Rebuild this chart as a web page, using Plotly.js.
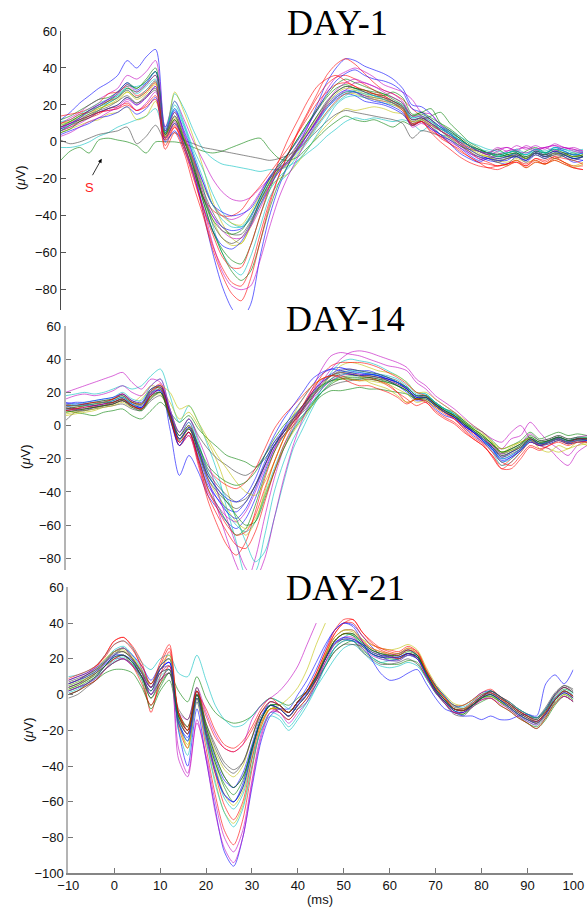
<!DOCTYPE html>
<html>
<head>
<meta charset="utf-8">
<script src="https://cdn.plot.ly/plotly-3.0.1.min.js"></script>
<style>
  html, body { margin: 0; padding: 0; background: #fff; }
  #chart { width: 587px; height: 910px; }
</style>
</head>
<body>
<div id="chart"></div>
<script>
// Sample times (ms) shared by every recording
const timeMs = [-10,-8,-6,-4,-2,0,2,4,6,8,10,12,14,16,18,20,22,24,26,28,30,32,34,36,38,40,42,44,46,48,50,52,54,56,58,60,62,64,66,68,70,72,74,76,78,80,82,84,86,88,90,92,94,96,98,100];

// ---- DAY-1 recordings (µV) ----
const d1a = [12,16,21,25,29,32,36,44, 40,46,50,8,18,4,-14,-38, -60,-78,-90,-96,-88,-62,-40,-24, -12,-2,8,20,32,40,45,44, 41,39,37,34,29,20,19,15, 9,5,-1,-6,-8,-10,-11,-12, -8,-11,-7,-9,-6,-8,-11,-10];
const d1b = [-10,-5,-3,-6,1,2,1,0, -2,-6,0,0,0,-1,-3,-5, -6,-5,-3,-1,1,2,-4,-9, -10,-8,-3,2,7,11,14,12, 11,12,10,8,11,9,12,14, 16,10,5,0,-3,-6,-4,-7, -8,-5,-3,-6,-9,-7,-6,-8];
const d1c = [6,8,11,13,15,18,19,21, 17,20,25,-2,8,-2,-18,-38, -56,-68,-76,-78,-68,-50,-32,-18, -6,6,16,26,36,42,45,42, 37,32,28,26,23,18,14,12, 6,3,-1,-5,-9,-11,-13,-12, -10,-12,-9,-10,-8,-11,-13,-13];
const d1d = [-3,-3,-2,0,3,5,8,10, 12,14,18,4,26,18,6,-4, -9,-12,-13,-14,-15,-16,-15,-15, -13,-10,-6,-2,3,7,11,13, 12,13,12,11,12,10,6,9, 4,3,1,-2,-5,-6,-7,-8, -6,-7,-5,-6,-4,-5,-7,-6];
const d1e = [10,13,16,20,23,26,29,36, 34,38,44,8,22,12,0,-10, -20,-27,-31,-32,-30,-25,-20,-15, -10,-1,8,18,28,35,38,40, 38,35,31,29,27,23,16,15, 9,6,2,-2,-4,-6,-4,-3, -5,-2,-4,-3,-2,-4,-3,-5];
const d1f = [5,7,9,11,12,15,16,19, 12,14,22,2,27,16,2,-14, -32,-44,-52,-55,-45,-32,-24,-20, -17,-11,-4,3,9,14,18,17, 18,19,18,16,15,9,11,8, 4,2,-1,-4,-7,-8,-10,-11, -9,-11,-10,-12,-9,-11,-13,-11];
const d1g = [1,-1,0,2,4,5,6,8, -1,3,9,1,5,1,-1,-3, -4,-5,-6,-7,-8,-9,-10,-9, -7,-4,1,6,11,15,17,16, 15,14,13,12,10,2,6,5, 3,1,-2,-4,-5,-7,-6,-8, -7,-8,-6,-8,-7,-6,-7,-8];
const d1h = [8,10,12,14,16,18,20,24, 20,24,30,3,10,0,-12,-30, -40,-46,-48,-47,-41,-30,-20,-14, -10,-3,4,11,18,23,26,25, 22,21,20,18,15,10,12,8, 4,1,-3,-7,-10,-8,-9,-8, -6,-9,-5,-7,-3,-5,-7,-6];
const d1i = [12,14,17,20,23,24,27,32, 29,34,40,5,16,2,-12,-32, -48,-58,-64,-66,-56,-40,-26,-14, -6,2,10,18,25,31,34,32, 30,28,26,24,21,14,15,12, 8,5,2,-2,-4,-6,-8,-7, -6,-9,-6,-7,-5,-7,-9,-8];
const d1j = [14,15,16,18,21,26,27,30, 25,28,33,2,9,-2,-16,-30, -37,-40,-40,-37,-30,-24,-17,-10, -3,5,13,21,27,31,32,30, 27,26,25,22,19,9,11,8, 2,-1,-5,-8,-11,-12,-13,-12, -10,-13,-9,-11,-8,-9,-10,-12];
const d1k = [9,11,14,17,20,22,25,29, 26,30,34,6,18,8,-8,-25, -45,-60,-68,-72,-62,-46,-30,-22, -17,-10,-4,4,12,20,24,25, 24,23,21,20,18,12,13,10, 7,5,1,-2,-4,-5,-7,-6, -5,-7,-4,-6,-3,-4,-5,-4];
const d1l = [6,8,10,13,16,17,18,22, 17,21,27,4,14,3,-10,-22, -34,-40,-42,-40,-35,-27,-19,-14, -11,-4,2,9,16,22,26,27, 25,23,22,21,18,8,10,7, 3,0,-3,-6,-9,-9,-7,-5, -4,-3,-5,-3,-2,-3,-4,-6];
const d1m = [10,11,13,15,18,20,23,27, 24,27,32,3,12,1,-12,-28, -42,-52,-56,-55,-46,-34,-23,-16, -12,-6,1,9,16,22,26,26, 24,23,22,20,17,10,12,9, 6,3,0,-3,-7,-8,-11,-13, -10,-14,-11,-12,-10,-12,-14,-12];
const d1n = [7,9,11,13,16,18,20,24, 21,24,28,2,10,1,-10,-26, -38,-46,-50,-50,-43,-32,-22,-15, -10,-3,4,12,19,24,27,27, 25,24,23,21,18,11,13,10, 7,4,1,-2,-5,-7,-9,-8, -7,-9,-6,-7,-5,-6,-8,-7];
const d1o = [4,6,8,10,13,14,16,19, 15,18,24,0,6,-4,-18,-35, -48,-56,-58,-54,-45,-34,-24,-16, -10,-4,4,12,20,25,28,27, 24,22,21,19,16,9,11,7, 4,-1,-6,-9,-11,-9,-10,-9, -8,-10,-6,-8,-6,-7,-9,-10];
const d1p = [5,7,11,14,17,21,24,29, 27,31,36,4,12,-2,-16,-32, -48,-60,-70,-75,-70,-54,-36,-22, -12,-3,6,14,21,27,30,29, 28,27,26,23,20,14,16,13, 10,7,3,-1,-4,-6,-8,-7, -6,-9,-6,-8,-6,-7,-9,-8];
const d1q = [8,10,12,14,16,17,18,20, 17,19,23,-4,5,-6,-24,-40, -58,-72,-82,-86,-74,-54,-34,-18, -6,5,15,24,31,35,36,34, 31,28,25,22,19,10,11,6, 3,-1,-4,-8,-11,-14,-13,-12, -11,-13,-10,-12,-9,-11,-14,-15];
const d1r = [11,12,15,18,21,23,25,30, 30,32,38,7,22,10,-4,-15, -28,-38,-44,-46,-42,-34,-26,-19, -14,-7,0,8,15,21,25,28, 27,25,24,22,20,13,14,11, 8,6,3,0,-2,-4,-5,-6, -4,-6,-4,-5,-3,-4,-6,-5];
const d1s = [3,5,8,11,13,16,19,23, 20,24,30,2,11,-2,-18,-35, -55,-70,-78,-80,-78,-64,-46,-30, -18,-8,2,11,19,24,28,32, 32,30,27,24,21,12,13,9, 6,3,0,-2,-5,-7,-5,-3, -5,-6,-4,-3,-5,-3,-5,-6];
const d1t = [9,11,14,16,18,20,22,27, 23,26,31,3,13,2,-10,-24, -34,-40,-44,-45,-38,-29,-21,-15, -10,-3,5,13,20,26,29,28, 26,24,23,21,18,11,12,9, 6,3,0,-3,-6,-8,-10,-9, -7,-9,-6,-8,-6,-7,-8,-7];
const d1u = [6,9,12,15,17,19,22,25, 21,25,29,4,12,0,-14,-30, -44,-52,-55,-52,-44,-32,-22,-13, -8,-1,6,14,22,27,30,29, 27,25,24,22,19,12,13,10, 6,2,-2,-5,-8,-9,-11,-9, -8,-10,-7,-9,-7,-8,-10,-8];
const d1v = [7,10,13,17,20,23,27,32, 28,32,38,6,17,6,-8,-22, -34,-38,-40,-39,-36,-28,-19,-12, -6,1,9,17,26,33,37,39, 36,34,33,31,27,18,16,12, 8,4,0,-4,-7,-9,-10,-10, -7,-10,-6,-8,-5,-7,-9,-8];
const d1w = [8,11,14,17,19,22,26,31, 29,33,38,5,14,1,-14,-30, -42,-48,-50,-48,-40,-30,-20,-12, -6,2,10,17,24,29,31,29, 28,26,25,27,24,15,16,18, 10,6,2,-2,-5,-6,-7,-6, -5,-8,-5,-6,-4,-6,-8,-7];
const d1x = [10,12,15,16,19,22,24,28, 24,27,32,1,8,-4,-20,-36, -50,-62,-68,-68,-56,-40,-24,-10, 2,12,22,30,34,36,33,30, 28,26,24,21,17,9,11,5, 0,-4,-8,-11,-13,-14,-15,-13, -11,-14,-11,-12,-10,-12,-14,-15];
const d1y = [6,9,13,16,19,21,24,28, 24,28,33,5,20,9,-6,-20, -34,-42,-46,-46,-40,-31,-22,-16, -11,-5,2,10,18,24,27,27, 26,25,23,21,19,13,14,11, 7,4,1,-2,-5,-6,-8,-6, -5,-7,-4,-6,-4,-5,-7,-6];
const d1z = [8,10,13,17,20,23,26,31, 27,31,36,6,16,5,-10,-28, -40,-48,-52,-52,-46,-36,-24,-16, -11,-4,4,12,21,28,32,34, 32,30,28,26,22,14,14,10, 6,3,-1,-3,-5,-6,-3,-5, -2,-4,-2,-4,-1,-3,-4,-5];

// ---- DAY-14 recordings (µV) ----
const d14a = [12,10,9,11,12,14,16,13, 11,18,22,-2,-30,-18,-28,-42, -50,-58,-62,-56,-44,-28,-14,-2, 8,16,24,31,34,35,33,32, 31,30,27,24,20,15,15,10, 6,4,-1,-6,-10,-15,-22,-19, -15,-9,-12,-10,-8,-10,-9,-10];
const d14b = [9,8,7,6,8,9,10,6, 4,9,14,8,2,6,-2,-8, -13,-18,-20,-22,-25,-20,-12,-6, 0,6,12,18,21,21,22,23, 22,22,21,20,19,16,17,13, 10,8,3,-1,-4,-9,-14,-12, -9,-4,-8,-6,-4,-6,-5,-6];
const d14c = [10,11,12,11,12,13,15,12, 10,19,24,8,-12,-6,-24,-45, -60,-72,-78,-70,-52,-32,-16,-4, 4,12,20,26,30,32,31,30, 29,27,24,20,16,12,14,8, 4,1,-4,-8,-12,-18,-24,-20, -14,-9,-12,-10,-8,-11,-9,-9];
const d14d = [18,19,20,19,20,22,24,22, 24,30,34,18,2,12,2,-12, -28,-50,-70,-90,-88,-66,-40,-22, -8,2,12,22,32,38,40,39, 38,36,33,30,26,20,19,14, 10,6,0,-4,-9,-16,-24,-22, -16,-10,-12,-10,-7,-9,-8,-7];
const d14e = [20,22,24,26,28,30,32,26, 22,28,26,10,-6,2,-14,-32, -50,-68,-84,-95,-80,-55,-32,-14, -2,10,22,34,42,44,43,42, 40,38,36,35,33,26,22,16, 12,8,2,-4,-8,-12,-14,-8, -6,2,-4,-10,-14,-18,-12,-9];
const d14f = [8,9,10,12,14,15,17,14, 18,24,22,14,4,8,0,-10, -22,-38,-56,-66,-58,-40,-22,-8, 4,12,18,24,30,36,38,37, 35,33,32,30,26,20,20,16, 12,8,4,0,-4,-10,-16,-13, -10,-8,-12,-14,-16,-14,-12,-11];
const d14g = [3,8,9,10,11,12,13,10, 9,15,18,8,-4,4,-6,-14, -20,-24,-28,-30,-26,-18,-10,-4, 2,8,14,20,24,26,27,28, 29,28,27,24,21,16,16,12, 8,5,0,-4,-8,-13,-18,-16, -12,-8,-10,-9,-7,-9,-8,-8];
const d14h = [10,10,11,12,13,15,17,13, 11,20,21,4,-10,-4,-20,-36, -44,-50,-52,-46,-36,-22,-10,-2, 5,12,20,27,31,34,34,33, 33,31,29,26,23,18,18,13, 9,6,1,-4,-8,-13,-19,-16, -13,-8,-11,-10,-8,-10,-9,-8];
const d14i = [12,12,13,14,15,16,18,14, 13,22,23,6,-12,-4,-20,-38, -48,-58,-66,-62,-48,-30,-16,-6, 2,9,17,23,27,29,30,30, 30,29,28,26,23,18,18,14, 10,7,3,-2,-6,-11,-17,-15, -12,-7,-10,-9,-7,-9,-8,-8];
const d14j = [11,10,12,13,14,16,19,15, 13,21,25,8,-6,0,-12,-26, -32,-36,-38,-34,-26,-14,-2,6, 12,18,24,28,30,30,28,27, 28,27,25,20,14,16,15,11, 7,4,-1,-5,-10,-16,-22,-24, -18,-12,-14,-12,-9,-11,-9,-10];
const d14k = [12,13,14,15,16,17,20,16, 15,24,28,10,-4,4,-10,-28, -40,-52,-60,-64,-58,-42,-26,-12, -2,6,14,22,28,32,33,33, 32,31,30,28,24,19,19,14, 10,7,2,-3,-8,-14,-22,-20, -15,-9,-11,-9,-7,-9,-7,-8];
const d14l = [9,9,10,11,12,13,15,11, 10,18,20,4,-12,-6,-22,-40, -48,-55,-58,-52,-40,-26,-14,-6, 2,9,16,22,27,30,31,31, 30,29,28,25,22,16,17,12, 8,5,0,-4,-8,-12,-17,-14, -11,-5,-9,-8,-6,-8,-7,-6];
const d14m = [7,8,9,10,12,14,16,12, 10,17,19,5,-8,-2,-16,-32, -42,-50,-58,-62,-56,-42,-28,-14, -4,4,12,20,26,28,28,27, 27,26,25,22,19,14,15,11, 8,6,2,-2,-6,-11,-16,-15, -13,-9,-12,-11,-9,-11,-10,-10];
const d14n = [13,12,13,14,15,16,18,14, 13,21,23,7,-8,-1,-16,-32, -40,-46,-50,-46,-36,-24,-12,-4, 3,10,17,24,28,31,31,30, 30,29,27,25,22,17,18,13, 9,6,1,-3,-8,-13,-19,-17, -14,-8,-11,-10,-8,-10,-8,-8];
const d14o = [14,13,13,12,13,14,16,12, 11,19,21,5,-12,-4,-18,-34, -44,-52,-56,-50,-38,-24,-12,-4, 4,11,19,26,30,32,31,30, 31,30,28,26,22,17,17,12, 8,5,0,-4,-9,-14,-20,-18, -14,-9,-11,-10,-8,-10,-8,-9];
const d14p = [10,11,12,13,14,14,16,12, 10,18,20,4,-9,-2,-16,-30, -38,-46,-54,-60,-58,-44,-28,-14, -3,5,13,20,25,28,29,29, 29,28,26,24,21,16,16,12, 8,5,1,-3,-7,-11,-16,-14, -11,-7,-10,-9,-7,-9,-8,-8];
const d14q = [12,12,13,14,14,16,19,14, 12,20,24,6,-10,-4,-22,-42, -54,-64,-72,-74,-64,-46,-28,-12, 0,10,20,30,36,38,38,38, 37,35,32,29,25,20,18,13, 8,4,-2,-7,-11,-19,-26,-22, -16,-10,-12,-10,-8,-10,-8,-8];
const d14r = [11,12,12,13,14,15,17,13, 12,20,22,6,-6,2,-12,-26, -34,-44,-56,-70,-82,-76,-56,-34, -14,-2,10,20,26,30,32,32, 31,30,29,26,23,18,18,14, 10,7,2,-3,-8,-14,-20,-18, -14,-9,-11,-10,-8,-10,-9,-9];
const d14s = [16,18,19,18,19,21,24,20, 18,24,28,10,-4,4,-8,-22, -40,-56,-72,-86,-92,-80,-56,-32, -12,4,16,26,34,40,44,45, 44,42,40,38,35,28,24,18, 14,10,5,0,-4,-8,-10,-4, 0,-8,-12,-14,-20,-24,-16,-12];
const d14t = [6,7,8,9,11,12,14,11, 16,22,24,20,10,12,2,-8, -18,-26,-34,-40,-42,-34,-22,-8, 6,16,24,28,30,32,32,30, 26,24,22,18,14,16,18,12, 8,6,2,-2,-5,-10,-14,-12, -10,-8,-14,-16,-12,-14,-10,-12];
const d14u = [9,10,10,11,12,13,15,12, 10,16,20,6,-8,-2,-14,-28, -36,-42,-46,-44,-36,-24,-12,-3, 4,10,18,25,30,33,34,33, 32,31,29,27,23,18,18,13, 9,6,1,-3,-7,-12,-18,-16, -13,-8,-11,-9,-7,-9,-8,-8];
const d14v = [13,14,14,15,16,17,19,15, 14,22,24,8,-8,-1,-14,-30, -38,-44,-46,-42,-32,-18,-6,4, 12,20,28,32,34,33,32,31, 31,30,28,26,22,17,17,12, 8,5,0,-4,-9,-14,-21,-19, -15,-10,-12,-11,-9,-11,-10,-9];
const d14w = [8,9,10,11,12,13,15,11, 9,17,20,6,-6,0,-12,-24, -30,-34,-36,-34,-28,-18,-8,0, 6,12,19,24,27,28,28,28, 28,27,26,24,21,16,17,13, 9,6,2,-2,-6,-11,-16,-14, -11,-6,-9,-8,-6,-8,-7,-7];
const d14x = [9,10,11,12,13,14,16,12, 10,18,22,6,-10,-4,-20,-38, -50,-60,-66,-64,-54,-38,-22,-8, 2,12,22,28,30,29,26,24, 24,22,20,17,13,16,14,9, 5,2,-3,-8,-12,-18,-26,-26, -20,-13,-15,-12,-10,-12,-10,-10];

// ---- DAY-21 recordings (µV) ----
const d21a = [2,4,6,10,16,22,26,20, 12,4,14,18,-20,-40,-8,-36, -64,-88,-96,-80,-52,-26,-12,-8, -8,0,8,18,28,36,40,39, 33,27,22,19,20,22,22,13, 5,-1,-7,-6,-3,1,2,-1, -5,-9,-12,-14,-8,0,4,1];
const d21b = [0,2,5,8,12,14,14,12, 4,-6,4,12,2,-4,10,-2, -10,-14,-16,-15,-12,-6,-2,-4, -6,-2,2,8,16,24,28,30, 25,21,18,17,17,19,18,9, 1,-5,-10,-11,-7,-4,-2,-6, -9,-13,-16,-19,-14,-6,-1,-4];
const d21c = [6,8,11,15,22,30,32,26, 14,-10,10,24,-18,-30,-4,-30, -56,-76,-84,-70,-42,-18,-8,-8, -10,-4,2,12,24,34,40,40, 33,28,26,25,24,27,24,14, 5,-2,-6,-6,-3,1,3,-1, -4,-8,-11,-13,-9,-1,4,1];
const d21d = [10,11,13,16,22,28,30,26, 18,14,20,22,12,10,22,8, -6,-14,-18,-17,-12,-6,-2,-4, -8,-8,-4,4,12,20,26,28, 24,19,16,15,16,18,16,9, 1,-4,-9,-10,-6,-3,-1,-4, -7,-11,-15,-17,-12,-5,-1,-4];
const d21e = [4,6,8,12,18,24,26,20, 12,0,12,16,-36,-46,-14,-36, -66,-86,-94,-80,-50,-24,-10,-8, -12,-6,0,10,22,32,36,36, 30,25,23,21,20,23,21,11, 2,-4,-8,-9,-5,-1,0,-3, -6,-10,-13,-15,-11,-3,1,-2];
const d21f = [3,5,8,12,18,24,25,20, 12,4,16,22,-14,-30,-2,-26, -48,-66,-72,-62,-40,-18,-8,-8, -10,-4,2,10,22,32,36,35, 31,28,26,25,26,28,25,15, 6,0,-5,-6,-3,0,1,-2, -5,-9,-12,-14,-9,-2,3,1];
const d21g = [-2,0,4,8,14,18,20,17, 10,0,8,12,-12,-18,2,-18, -34,-46,-52,-46,-30,-14,-6,-8, -12,-6,0,8,18,26,30,30, 24,20,17,17,18,20,17,10, 2,-5,-11,-12,-7,-2,2,-2, -5,-9,-12,-13,-7,1,5,3];
const d21h = [6,8,11,14,18,22,22,18, 10,2,14,18,-14,-22,0,-20, -36,-48,-52,-44,-28,-12,-6,-8, -12,-5,1,10,20,29,31,30, 28,24,22,22,23,25,22,12, 3,-3,-8,-8,-5,-1,1,-3, -7,-11,-14,-15,-10,-2,2,-1];
const d21i = [2,4,7,10,14,18,20,16, 8,-8,2,8,-14,-22,-2,-22, -38,-52,-60,-52,-32,-14,-6,-6, -10,-4,2,10,20,30,34,33, 27,23,21,20,20,23,21,11, 1,-4,-9,-11,-6,-2,0,-4, -8,-12,-16,-18,-13,-4,0,-3];
const d21j = [8,10,12,16,22,30,32,27, 18,4,16,26,-12,-22,0,-8, -20,-28,-30,-26,-18,-8,-2,-6, -10,-4,2,10,22,34,40,42, 35,30,26,24,23,26,24,13, 4,-2,-8,-8,-4,0,1,-2, -6,-10,-13,-16,-10,-3,2,-1];
const d21k = [5,7,10,13,19,25,27,22, 14,6,16,20,-14,-26,2,-22, -42,-58,-64,-56,-36,-20,-10,-12, -18,-12,-4,6,16,26,30,30, 26,21,18,19,20,22,20,12, 5,-1,-6,-7,-4,0,2,-1, -5,-8,-11,-13,-9,-2,2,0];
const d21l = [4,6,9,12,16,20,20,16, 10,4,12,14,-10,-14,4,-10, -22,-30,-32,-28,-14,-6,-2,2, 8,16,28,40,null,null,null,null, null,null,null,null,null,null,null,null, null,null,null,null,null,null,null,null, null,null,null,null,null,null,null,null];
const d21m = [6,8,10,14,20,24,24,20, 12,6,16,20,-10,-18,0,-18, -32,-42,-46,-40,-24,-12,-8,-6, -2,4,14,28,40,null,null,null, null,null,null,null,null,null,null,null, null,null,null,null,null,null,null,null, null,null,null,null,null,null,null,null];
const d21n = [7,9,11,14,18,23,24,20, 13,6,14,16,-8,-14,2,-16, -30,-40,-44,-38,-24,-10,-6,-10, -14,-8,-2,6,16,24,28,28, 27,23,21,21,21,23,21,13, 5,-1,-6,-8,-6,-2,2,-1, -4,-8,-11,-13,-8,0,4,1];
const d21o = [8,10,12,15,19,24,26,22, 16,8,16,20,-16,-24,0,-24, -44,-56,-60,-50,-30,-14,-4,-6, -10,-4,4,14,26,36,40,38, 30,20,12,8,9,12,14,6, -2,-8,-10,-12,-12,-14,-12,-14, -14,-12,-11,-12,6,11,6,14];
const d21p = [4,6,9,12,16,20,22,18, 10,2,12,14,-12,-20,0,-20, -38,-50,-56,-48,-30,-14,-6,-8, -12,-6,0,9,20,30,34,33, 29,25,23,22,22,24,22,12, 3,-3,-8,-9,-6,-2,-1,-4, -7,-11,-14,-16,-11,-3,1,-2];
const d21q = [0,2,5,8,14,20,22,16, 6,-6,6,16,-10,-20,2,-22, -44,-62,-70,-60,-36,-16,-8,-10, -14,-8,-2,8,20,30,34,34, 30,26,24,22,20,23,20,10, 2,-4,-10,-10,-6,-3,-2,-6, -9,-13,-16,-19,-13,-5,-1,-4];
const d21r = [1,3,6,9,14,19,21,17, 9,0,10,14,-20,-34,-4,-26, -50,-66,-74,-64,-40,-20,-12,-14, -20,-14,-6,4,16,26,32,34, 28,23,20,19,19,22,20,11, 3,-3,-8,-9,-5,-1,1,-2, -4,-8,-11,-13,-8,-1,3,1];
const d21s = [2,4,6,9,14,18,20,16, 10,0,8,12,-30,-44,-16,-34, -60,-80,-88,-76,-48,-22,-10,-10, -16,-10,-4,6,18,28,32,32, 26,22,20,19,19,22,20,10, 1,-5,-10,-10,-7,-3,-2,-5, -8,-12,-15,-17,-12,-5,-1,-4];
const d21t = [5,7,9,13,19,24,26,21, 13,4,14,20,-16,-28,-2,-22, -40,-56,-62,-54,-34,-16,-8,-8, -12,-6,0,10,22,32,36,36, 31,26,24,23,23,26,23,13, 4,-2,-7,-8,-5,-2,-1,-4, -7,-11,-14,-16,-12,-5,0,-2];
const d21u = [0,2,6,10,16,22,24,19, 10,-2,8,14,-10,-18,4,-16, -28,-38,-42,-38,-24,-10,-4,-6, -10,-4,2,10,20,28,31,31, 28,24,22,21,21,23,21,12, 3,-3,-8,-9,-6,-1,2,-1, -5,-9,-12,-14,-9,0,5,2];
const d21v = [6,8,10,13,17,21,22,19, 12,4,14,18,-16,-26,-2,-22, -42,-56,-60,-52,-32,-14,-6,-8, -12,-6,0,9,20,29,32,31, 28,23,21,21,21,23,20,11, 2,-4,-9,-10,-6,-2,0,-3, -7,-11,-14,-16,-11,-3,1,-2];
const d21w = [3,5,8,11,16,21,22,18, 10,-2,6,12,-12,-20,0,-18, -34,-46,-52,-46,-30,-14,-6,-6, -10,-4,2,10,21,30,34,34, 29,25,23,22,22,25,22,12, 3,-3,-8,-9,-6,-2,0,-3, -6,-10,-13,-15,-10,-3,2,-1];
const d21x = [9,11,13,16,21,28,30,25, 16,6,18,28,-10,-20,2,-12, -24,-30,-32,-28,-20,-10,-4,-6, -10,-4,2,12,24,36,42,42, 35,29,25,23,22,25,23,13, 4,-2,-8,-9,-5,-1,1,-2, -5,-9,-12,-15,-10,-3,2,-1];

const day1Series  = [d1a,d1b,d1c,d1d,d1e,d1f,d1g,d1h,d1i,d1j,d1k,d1l,d1m,d1n,d1o,d1p,d1q,d1r,d1s,d1t,d1u,d1v,d1w,d1x,d1y,d1z];
const day14Series = [d14a,d14b,d14c,d14d,d14e,d14f,d14g,d14h,d14i,d14j,d14k,d14l,d14m,d14n,d14o,d14p,d14q,d14r,d14s,d14t,d14u,d14v,d14w,d14x];
const day21Series = [d21a,d21b,d21c,d21d,d21e,d21f,d21g,d21h,d21i,d21j,d21k,d21l,d21m,d21n,d21o,d21p,d21q,d21r,d21s,d21t,d21u,d21v,d21w,d21x];

// Classic colour cycle: b, g, r, c, m, y, k
const palette = ['#0000ff','#008000','#ff0000','#00bfbf','#bf00bf','#bfbf00','#404040'];

const yTicksUpper = [-80,-60,-40,-20,0,20,40,60];
const yTicksLower = [-100,-80,-60,-40,-20,0,20,40,60];
const xTicks = [-10,0,10,20,30,40,50,60,70,80,90,100];

function panelTraces(series, xa, ya) {
  return series.map((vals, i) => ({
    type: 'scatter',
    mode: 'lines',
    x: timeMs,
    y: vals,
    xaxis: xa,
    yaxis: ya,
    connectgaps: false,
    hoverinfo: 'skip',
    opacity: 0.75,
    line: { color: palette[i % palette.length], width: 0.8, shape: 'spline', smoothing: 0.8 }
  }));
}

const traces = [].concat(
  panelTraces(day1Series, 'x', 'y'),
  panelTraces(day14Series, 'x2', 'y2'),
  panelTraces(day21Series, 'x3', 'y3')
);

const tickFont = { family: 'Liberation Sans, Arial, sans-serif', size: 13, color: '#111' };
const titleFont = { family: 'Liberation Serif, Times New Roman, serif', size: 36, color: '#000' };
const unitFont = { family: 'Liberation Sans, Arial, sans-serif', size: 13, color: '#111' };

const yCommon = {
  showline: true, ticks: 'inside', ticklen: 5, showgrid: false, zeroline: false,
  tickfont: tickFont, fixedrange: true
};

const layout = {
  width: 587, height: 910,
  margin: { l: 0, r: 0, t: 0, b: 0 },
  paper_bgcolor: '#fff', plot_bgcolor: 'rgba(0,0,0,0)',
  showlegend: false,
  xaxis:  { domain: [0.1034, 0.9932], range: [-10, 100], visible: false, anchor: 'y' },
  yaxis:  Object.assign({}, yCommon, { domain: [0.6593, 0.9659], range: [-91, 60], anchor: 'x',
            linecolor: '#4a4a4a', linewidth: 1, tickcolor: '#555', tickvals: yTicksUpper }),
  xaxis2: { domain: [0.1119, 1.0], range: [-10, 100], visible: false, anchor: 'y2' },
  yaxis2: Object.assign({}, yCommon, { domain: [0.3736, 0.6418], range: [-87, 60], anchor: 'x2',
            linecolor: '#b4b4b4', linewidth: 2, tickcolor: '#777', tickvals: yTicksUpper }),
  xaxis3: { domain: [0.1164, 0.9767], range: [-10, 100], anchor: 'y3', showline: true,
            linecolor: '#858585', linewidth: 1.2, ticks: 'inside', ticklen: 5, tickcolor: '#777',
            tickvals: xTicks, showgrid: false, zeroline: false, tickfont: tickFont, fixedrange: true },
  yaxis3: Object.assign({}, yCommon, { domain: [0.0403, 0.3546], range: [-100, 60], anchor: 'x3',
            linecolor: '#b4b4b4', linewidth: 2, tickcolor: '#777', tickvals: yTicksLower }),
  annotations: [
    { text: 'DAY-1',  xref: 'paper', yref: 'paper', x: 0.5758, y: 0.9744, xanchor: 'center', yanchor: 'middle', showarrow: false, font: titleFont },
    { text: 'DAY-14', xref: 'paper', yref: 'paper', x: 0.5886, y: 0.6500, xanchor: 'center', yanchor: 'middle', showarrow: false, font: titleFont },
    { text: 'DAY-21', xref: 'paper', yref: 'paper', x: 0.5894, y: 0.3533, xanchor: 'center', yanchor: 'middle', showarrow: false, font: titleFont },
    { text: '(<i>μ</i>V)', xref: 'paper', yref: 'paper', x: 0.0357, y: 0.8044, xanchor: 'center', yanchor: 'middle', textangle: -90, showarrow: false, font: unitFont },
    { text: '(<i>μ</i>V)', xref: 'paper', yref: 'paper', x: 0.0426, y: 0.4978, xanchor: 'center', yanchor: 'middle', textangle: -90, showarrow: false, font: unitFont },
    { text: '(<i>μ</i>V)', xref: 'paper', yref: 'paper', x: 0.0477, y: 0.1978, xanchor: 'center', yanchor: 'middle', textangle: -90, showarrow: false, font: unitFont },
    { text: '(ms)', xref: 'paper', yref: 'paper', x: 0.545, y: 0.011, xanchor: 'center', yanchor: 'middle', showarrow: false, font: unitFont },
    { text: 'S', xref: 'x', yref: 'y', x: -3.83, y: -24.6, xanchor: 'center', yanchor: 'middle', showarrow: false,
      font: { family: 'Liberation Sans, Arial, sans-serif', size: 13, color: '#ff2020' } },
    { text: '', xref: 'x', yref: 'y', x: -1.37, y: -9.1, ax: -10, ay: 18, showarrow: true,
      arrowhead: 2, arrowsize: 1, arrowwidth: 0.8, arrowcolor: '#000' }
  ]
};

Plotly.newPlot('chart', traces, layout, { staticPlot: true, displayModeBar: false });
</script>
</body>
</html>
